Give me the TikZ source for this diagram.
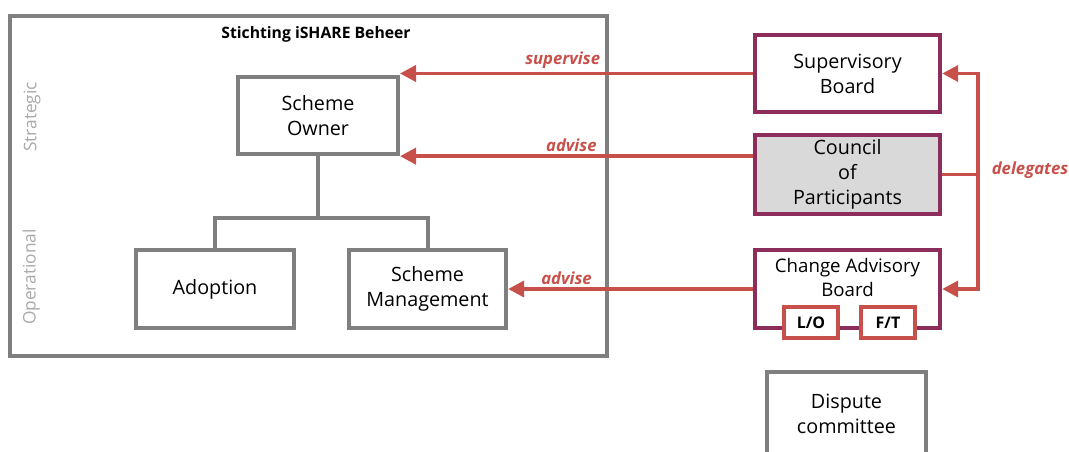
\documentclass[tikz,border=0pt]{standalone}
\usepackage{fontspec}
\setmainfont{Open Sans}
\usetikzlibrary{positioning,arrows.meta}

\definecolor{frameGray}{HTML}{7F7F7F}
\definecolor{labelGray}{HTML}{A9A9A9}
\definecolor{relRed}{HTML}{C8504B}
\definecolor{boardPurple}{HTML}{8C2D5B}
\definecolor{councilFill}{HTML}{D9D9D9}

\tikzset{
  unit/.style={rectangle, draw=frameGray, line width=3pt, fill=white, align=center,
    inner sep=0pt, font=\fontsize{14.8}{18.75}\selectfont},
  board/.style={unit, draw=boardPurple},
  seat/.style={rectangle, draw=relRed, line width=3pt, fill=white, inner sep=0pt,
    minimum width=40.5pt, minimum height=23pt, font=\bfseries\fontsize{12}{14}\selectfont},
  rel/.style={draw=relRed, line width=2.8pt, -{Triangle[length=12pt,width=12pt]}},
  relline/.style={draw=relRed, line width=2.8pt},
  rellabel/.style={text=relRed, font=\itshape\bfseries\fontsize{12.5}{15}\selectfont, inner sep=2pt},
  layer/.style={text=labelGray, font=\fontsize{13}{15}\selectfont, rotate=90}
}

\begin{document}
\begin{tikzpicture}[x=0.75pt,y=-0.75pt]
\useasboundingbox (0,0) rectangle (1069,452);

% foundation frame
\draw[frameGray, line width=3pt] (10,16) rectangle (607,356);
\node (title) at (316,34) {\bfseries\fontsize{11.8}{14}\selectfont Stichting iSHARE Beheer};
\node[layer] (strategic) at (32,117) {Strategic};
\node[layer] (operational) at (31,277) {Operational};

% organisation
\node[unit, minimum width=120pt, minimum height=58pt] (owner) at (318,115.5) {Scheme\\Owner};
\node[unit, minimum width=118.5pt, minimum height=58.5pt] (adoption) at (215,289) {Adoption};
\node[unit, minimum width=118pt, minimum height=58.5pt] (mgmt) at (427.5,289) {Scheme\\Management};

\draw[frameGray, line width=3pt] (owner.south) -- ++(0,62) coordinate (split);
\draw[frameGray, line width=3pt] (adoption.north) |- (split) -| (mgmt.north);

% boards
\node[board, minimum width=139pt, minimum height=58pt] (supervisory) at (847.5,73.5) {Supervisory\\Board};
\node[board, fill=councilFill, minimum width=139pt, minimum height=59pt] (council) at (847.5,174.5) {Council\\of\\Participants};
\node[board, minimum width=139pt, minimum height=58.5pt] (cab) at (847.5,289) {};
\node[align=center, font=\fontsize{14}{18}\selectfont] (cabtext) at (847.5,277) {Change Advisory\\Board};
\node[seat] (lo) at (811,322.5) {L/O};
\node[seat] (ft) [right=14.25pt of lo] {F/T};

\node[unit, minimum width=119pt, minimum height=63pt] (dispute) at (846.5,414) {Dispute\\committee};

% relations
\draw[rel] (supervisory.west) -- node[rellabel, pos=0.42, anchor=south east] {supervise} (supervisory.west -| owner.east);
\draw[rel] (owner.south east -| council.west) -- node[rellabel, pos=0.43, anchor=south east] {advise} (owner.south east);
\draw[rel] (cab.west) -- node[rellabel, pos=0.64, anchor=south east] {advise} (mgmt.east);

\coordinate (hub) at (978,174.5);
\draw[relline] (council.east) -- (hub);
\draw[rel] (hub) |- (supervisory.east);
\draw[rel] (hub) |- (cab.east);
\node[rellabel] (delegates) at (1030,170) {delegates};

\end{tikzpicture}
\end{document}
